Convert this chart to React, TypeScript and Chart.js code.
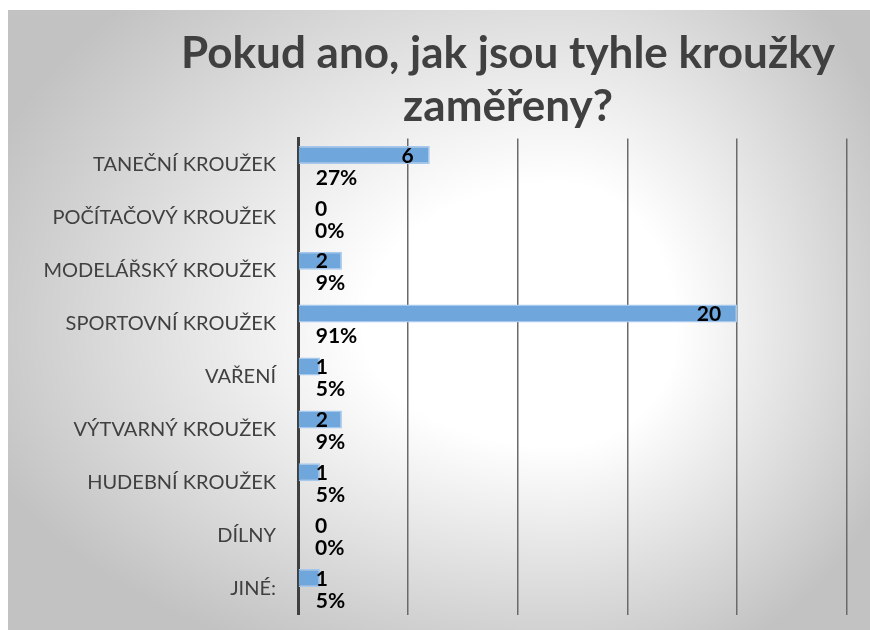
import React, { useEffect, useRef } from "react";
import { Chart, registerables } from "chart.js";

Chart.register(...registerables);

const titleLines = ["Pokud ano, jak jsou tyhle kroužky", "zaměřeny?"];
const categories = [
  "TANEČNÍ KROUŽEK",
  "POČÍTAČOVÝ KROUŽEK",
  "MODELÁŘSKÝ KROUŽEK",
  "SPORTOVNÍ KROUŽEK",
  "VAŘENÍ",
  "VÝTVARNÝ KROUŽEK",
  "HUDEBNÍ KROUŽEK",
  "DÍLNY",
  "JINÉ:",
];
const counts = [6, 0, 2, 20, 1, 2, 1, 0, 1];
const percents = [27, 0, 9, 91, 5, 9, 5, 0, 5];
const xMax = 25;
const xStep = 5;

const W = 862;
const H = 620;
const FONT = "Lato, 'Open Sans', sans-serif";

function makeBackground(w: number, h: number): HTMLCanvasElement {
  const c = document.createElement("canvas");
  c.width = w;
  c.height = h;
  const ctx = c.getContext("2d")!;
  const img = ctx.createImageData(w, h);
  const cx = 552;
  const cy = 320;
  for (let y = 0; y < h; y++) {
    for (let x = 0; x < w; x++) {
      const dx = x < cx ? (cx - x) / 560 : (x - cx) / 330;
      const dy = y < cy ? (cy - y) / 420 : (y - cy) / 330;
      const t = Math.sqrt(dx * dx + dy * dy);
      let s = (t - 0.35) / 0.75;
      s = Math.max(0, Math.min(1, s));
      const v = Math.round(255 - (255 - 194) * s);
      const i = (y * w + x) * 4;
      img.data[i] = v;
      img.data[i + 1] = v;
      img.data[i + 2] = v;
      img.data[i + 3] = 255;
    }
  }
  ctx.putImageData(img, 0, 0);
  return c;
}

export default function App() {
  const ref = useRef<HTMLCanvasElement | null>(null);

  useEffect(() => {
    const canvas = ref.current;
    if (!canvas) return;
    const bg = makeBackground(W, H);

    const bgPlugin = {
      id: "bgPlugin",
      beforeDraw(chart: any) {
        const ctx = chart.ctx;
        ctx.save();
        ctx.drawImage(bg, 0, 0);
        ctx.restore();
      },
    };

    const titlePlugin = {
      id: "titlePlugin",
      afterDraw(chart: any) {
        const ctx = chart.ctx;
        ctx.save();
        ctx.fillStyle = "#404040";
        ctx.font = `bold 44px ${FONT}`;
        ctx.textAlign = "center";
        ctx.textBaseline = "alphabetic";
        ctx.fillText(titleLines[0], 500, 58);
        ctx.fillText(titleLines[1], 500, 111);
        ctx.restore();
      },
    };

    const labelPlugin = {
      id: "labelPlugin",
      afterDatasetsDraw(chart: any) {
        const ctx = chart.ctx;
        const m0 = chart.getDatasetMeta(0);
        const m1 = chart.getDatasetMeta(1);
        ctx.save();
        ctx.fillStyle = "#000000";
        ctx.font = `bold 21px ${FONT}`;
        ctx.textAlign = "left";
        ctx.textBaseline = "middle";
        counts.forEach((v, i) => {
          const bar = m0.data[i] as any;
          const txt = String(v);
          const w = ctx.measureText(txt).width;
          const left = Math.max(bar.x - 16 - w, bar.base + 17);
          ctx.fillText(txt, left, bar.y + 1);
        });
        percents.forEach((v, i) => {
          const bar = m0.data[i] as any;
          const pb = m1.data[i] as any;
          ctx.fillText(`${v}%`, bar.base + 17, pb.y + 3);
        });
        ctx.restore();
      },
    };

    const chart = new Chart(canvas, {
      type: "bar",
      data: {
        labels: categories,
        datasets: [
          {
            label: "Počet",
            data: counts,
            xAxisID: "x",
            backgroundColor: "#6fa6dc",
            borderColor: "#a6c8ec",
            borderWidth: 1.5,
            categoryPercentage: 0.756,
            barPercentage: 0.9,
          },
          {
            label: "Procenta",
            data: percents,
            xAxisID: "x2",
            backgroundColor: "rgba(0,0,0,0)",
            borderWidth: 0,
            categoryPercentage: 0.756,
            barPercentage: 0.9,
          },
        ],
      },
      options: {
        indexAxis: "y",
        responsive: false,
        animation: false,
        devicePixelRatio: 1,
        layout: { padding: { top: 128.5, right: 23, bottom: 15.5, left: 0 } },
        plugins: {
          legend: { display: false },
          title: { display: false },
          tooltip: { enabled: false },
        },
        scales: {
          x: {
            min: 0,
            max: xMax,
            position: "bottom",
            ticks: { display: false, stepSize: xStep },
            border: { display: false },
            grid: { color: "#6a6a6a", lineWidth: 1.5, drawTicks: false },
            afterFit(scale: any) {
              scale.height = 0;
            },
          },
          x2: {
            display: false,
            min: 0,
            max: 100,
          },
          y: {
            ticks: {
              color: "#404040",
              font: { family: FONT, size: 20 },
              padding: 22,
            },
            grid: { display: false, drawTicks: false },
            border: { display: true, color: "#404040", width: 3 },
            afterFit(scale: any) {
              scale.width = 290;
              scale.paddingTop = 0;
              scale.paddingBottom = 0;
            },
          },
        },
      },
      plugins: [bgPlugin, labelPlugin, titlePlugin],
    } as any);

    return () => chart.destroy();
  }, []);

  return (
    <div>
      <canvas
        ref={ref}
        width={W}
        height={H}
        style={{ position: "fixed", left: 8, top: 10, width: W, height: H, display: "block" }}
      />
    </div>
  );
}
